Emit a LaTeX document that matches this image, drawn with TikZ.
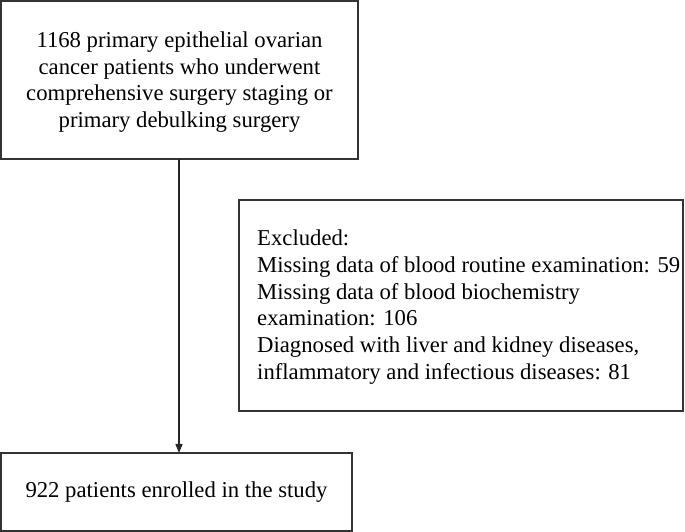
\documentclass[tikz,border=0pt]{standalone}
\usepackage{fontspec}
\setmainfont{Liberation Serif}
\usetikzlibrary{arrows.meta}
\begin{document}
\begin{tikzpicture}[x=1pt,y=1pt,
  boxst/.style={draw=black!80, line width=1.3pt},
  txt/.style={font=\fontsize{22.7}{26.8}\selectfont, align=center, inner sep=0pt},
  arr/.style={draw=black!85, line width=1.3pt, -{Triangle[length=9pt,width=7pt]}}]
\useasboundingbox (0,0) rectangle (685,532);
\draw[boxst] (1,373) rectangle (358,531);
\node[txt] (top) at (179.5,450) {1168 primary epithelial ovarian\\cancer patients who underwent\\comprehensive surgery staging or\\primary debulking surgery};
\coordinate (topS) at (179,373);
\draw[boxst] (1,1) rectangle (352,79);
\node[txt] (bot) at (176.5,40) {922 patients enrolled in the study};
\coordinate (botN) at (179,79);
\draw[boxst] (239,121) rectangle (683,332);
\node[txt, align=left, anchor=west] (exc) at (257,225) {Excluded:\\Missing data of blood routine examination: 59\\Missing data of blood biochemistry\\examination: 106\\Diagnosed with liver and kidney diseases,\\inflammatory and infectious diseases: 81};
\draw[arr] (topS) -- (botN);
\end{tikzpicture}
\end{document}
